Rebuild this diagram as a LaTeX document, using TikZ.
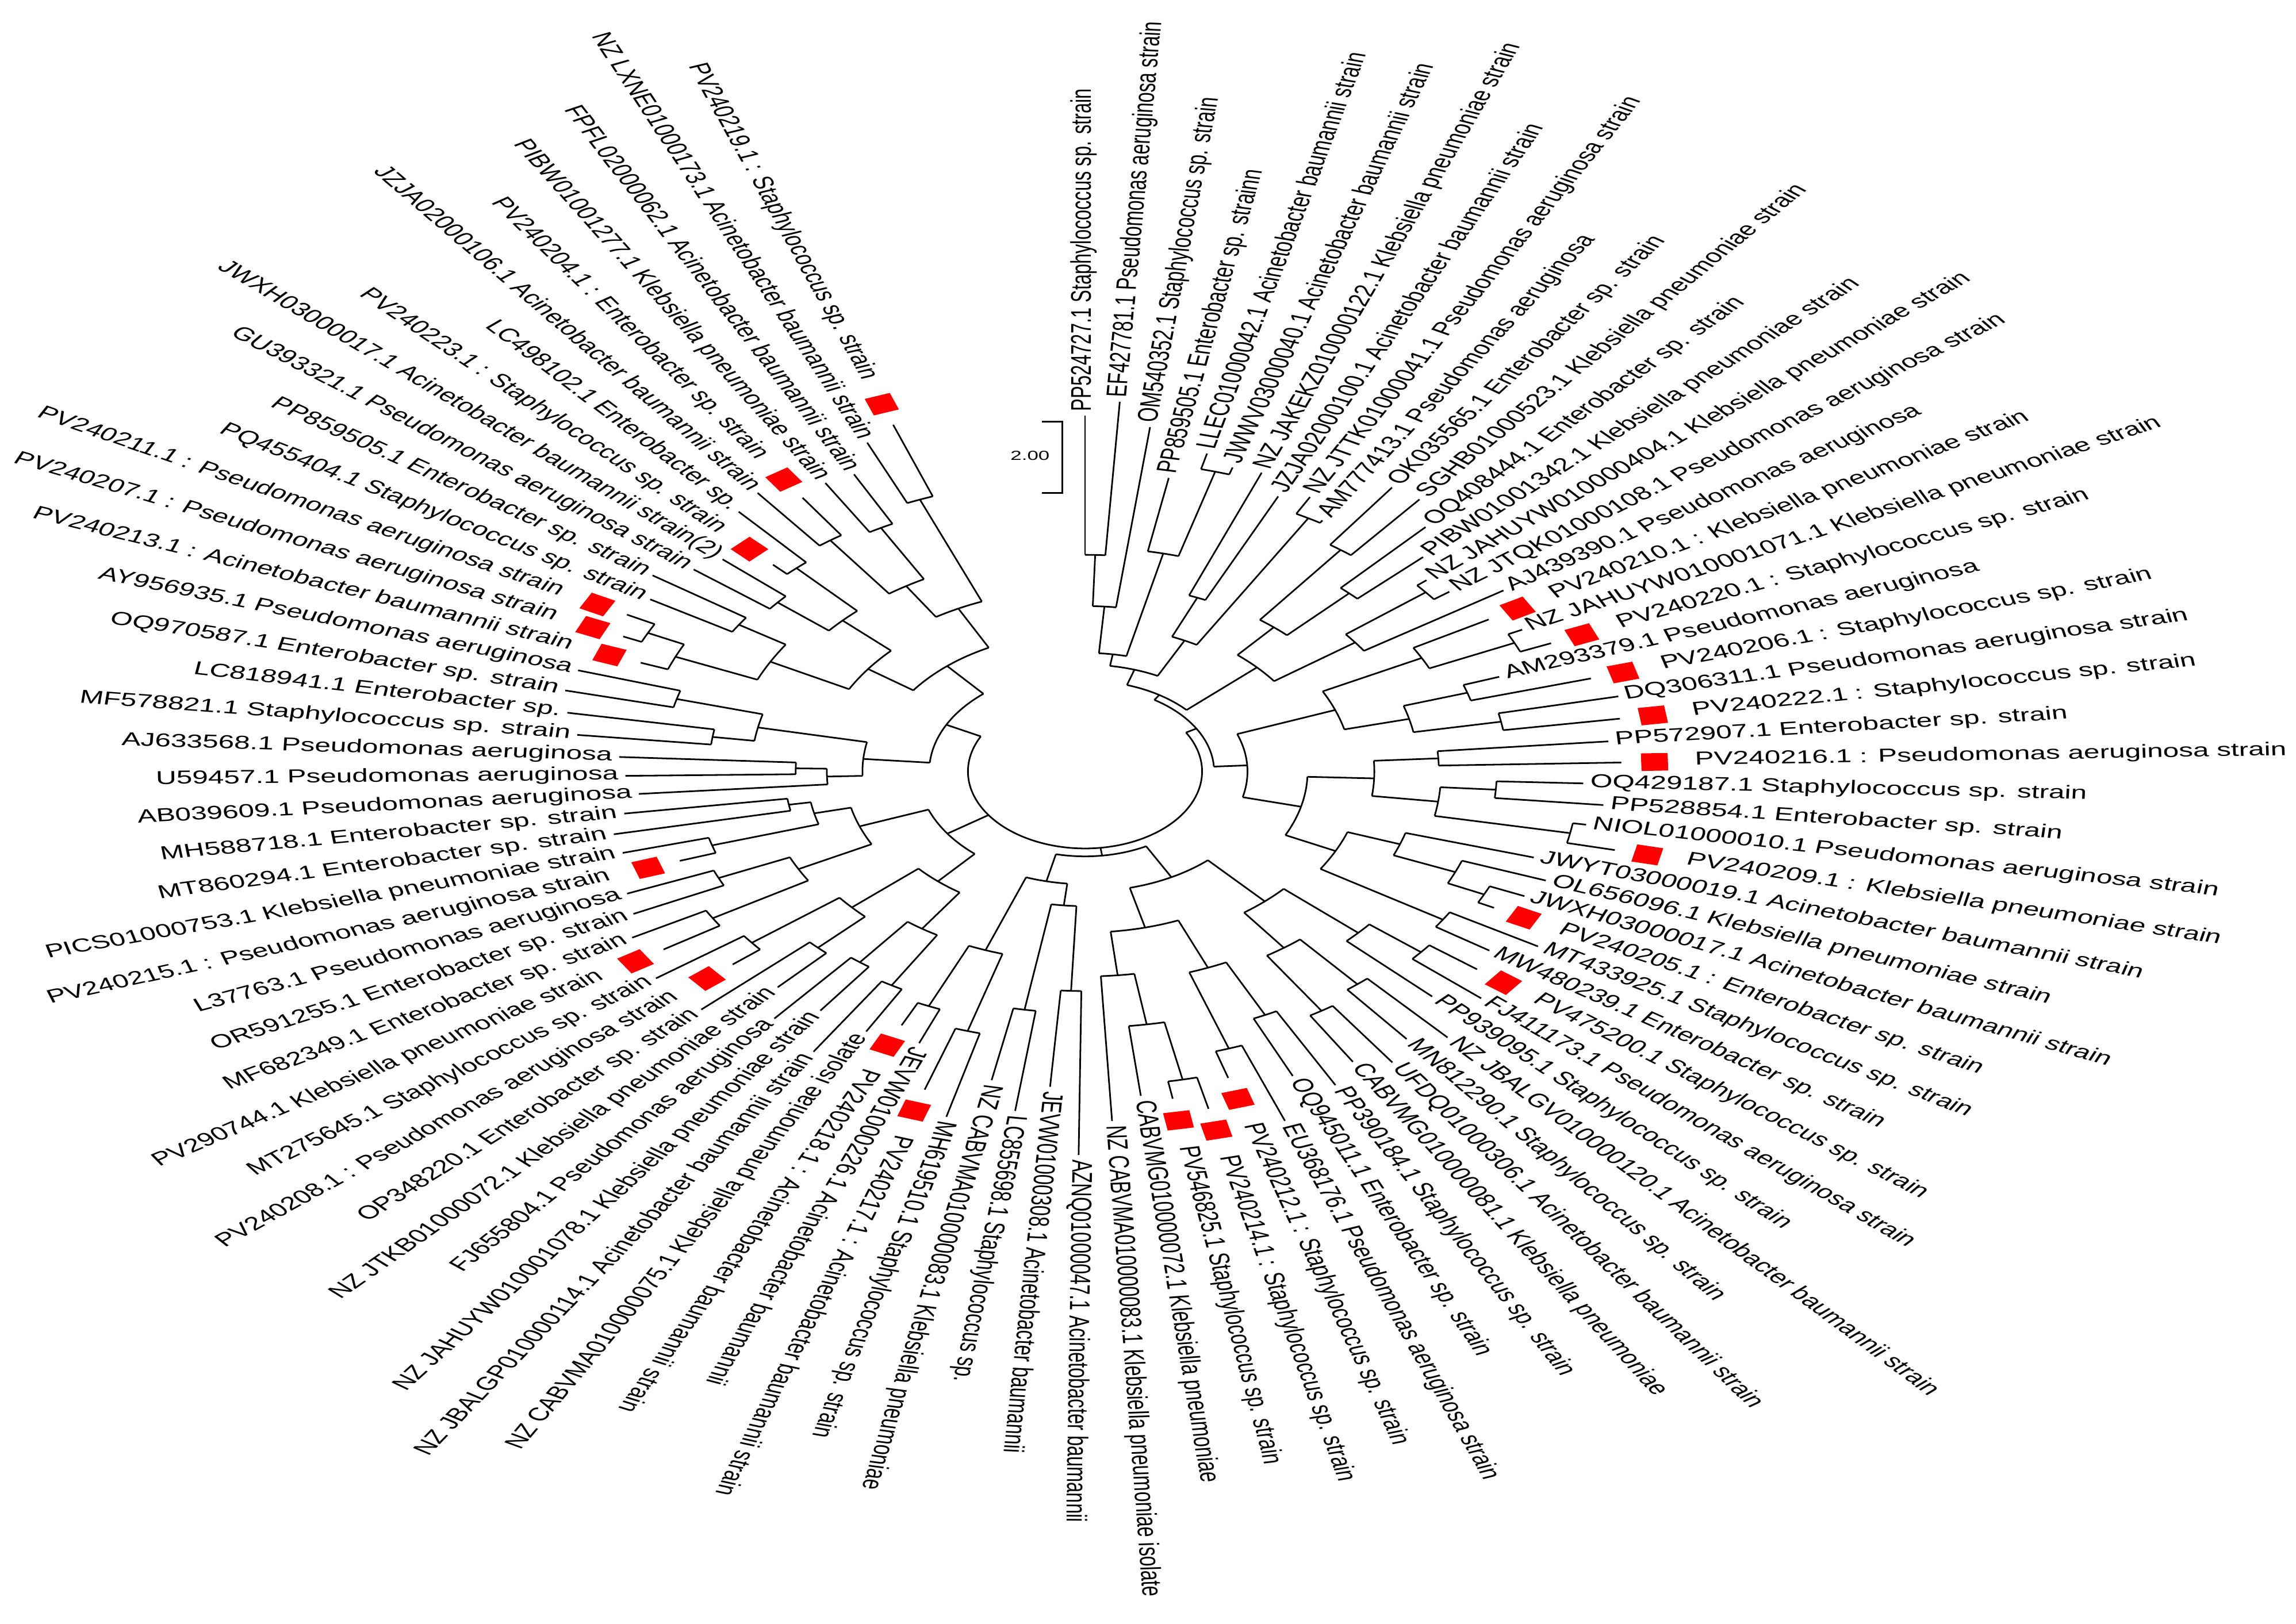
\documentclass[tikz,border=0pt]{standalone}
\usepackage{fontspec}
\setmainfont{Liberation Sans}
\def\dang{3.5417}
\newcommand\ix[1]{\csname ix@#1\endcsname}
% internal node: name, first child idx, last child idx, radius, parent radius
\newcommand\nd[5]{%
  \pgfmathsetmacro\ndA{#2}\pgfmathsetmacro\ndB{#3}%
  \pgfmathsetmacro\ndM{(\ndA+\ndB)/2}%
  \expandafter\xdef\csname ix@#1\endcsname{\ndM}%
  \pgfmathsetmacro\ndta{90-(\ndA-1)*\dang}%
  \pgfmathsetmacro\ndtb{90-(\ndB-1)*\dang}%
  \pgfmathsetmacro\ndtm{90-(\ndM-1)*\dang}%
  \pgfmathtruncatemacro\ndns{abs(\ndta-\ndtb)/1.5+3}%
  \coordinate (#1) at (\ndtm:#4);
  \coordinate (#1p) at (\ndtm:#5);
  \draw[br] plot[domain=\ndtb:\ndta, samples=\ndns] ({#4*cos(\x)},{#4*sin(\x)});
  \draw[br] (#1p) -- (#1);
}
% leaf: idx, parent radius, text radius, square (0/1), label
\newcommand\lf[5]{%
  \pgfmathsetmacro\lfth{90-(#1-1)*\dang}%
  \pgfmathsetmacro\lfrl{#3-3-30*#4}%
  \pgfmathsetmacro\lfrs{#3-18}%
  \pgfmathsetmacro\lftn{mod(\lfth+720,360)}%
  \pgfmathtruncatemacro\lfis{and(\lftn>90.5,\lftn<242.5)}%
  \coordinate (p#1) at (\lfth:#2);
  \coordinate (t#1) at (\lfth:\lfrl);
  \draw[br] (p#1) -- (t#1);
  \ifnum#4=1 \node[sq, rotate=\lfth] (s#1) at (\lfth:\lfrs) {};\fi
  \ifnum\lfis=1
    \pgfmathsetmacro\lftr{\lfth+180}%
    \node[lab, anchor=mid east, rotate=\lftr] (L#1) at (\lfth:#3) {#5};
  \else
    \node[lab, anchor=mid west, rotate=\lfth] (L#1) at (\lfth:#3) {#5};
  \fi
}
\begin{document}
\begin{tikzpicture}[x=1pt,y=1pt,xscale=1.52,
  br/.style={line width=1.1pt},
  lab/.style={font=\fontsize{12.8}{15}\selectfont, inner sep=0pt, transform shape},
  sq/.style={fill=red, draw=none, minimum width=12pt, minimum height=12pt, inner sep=0pt, transform shape},
  sbl/.style={font=\fontsize{9}{11}\selectfont, inner sep=0pt, transform shape}]
\useasboundingbox (-487.5,-582) rectangle (544.1,527);
% ---------- internal nodes ----------
\nd{A1}{1}{2}{148}{113}
\nd{A2}{\ix{A1}}{3}{113}{81}
\nd{A3}{5}{6}{213}{153}
\nd{A4}{4}{\ix{A3}}{153}{81}
\nd{A5}{\ix{A2}}{\ix{A4}}{81}{73}
\nd{A6}{7}{8}{129}{100}
\nd{A7}{9}{10}{200}{100}
\nd{A8}{\ix{A6}}{\ix{A7}}{100}{73}
\nd{A9}{\ix{A5}}{\ix{A8}}{73}{62}
\nd{A10}{11}{12}{190}{130}
\nd{A11}{13}{14}{170}{130}
\nd{A12}{\ix{A10}}{\ix{A11}}{130}{105}
\nd{A13}{15}{16}{196}{150}
\nd{A14}{\ix{A13}}{17}{150}{105}
\nd{A15}{\ix{A12}}{\ix{A14}}{105}{62}
\nd{A16}{\ix{A9}}{\ix{A15}}{62}{58}
\nd{B1}{19}{20}{212}{170}
\nd{B2}{18}{\ix{B1}}{170}{120}
\nd{B3}{21}{22}{180}{150}
\nd{B4}{23}{24}{190}{150}
\nd{B5}{\ix{B3}}{\ix{B4}}{150}{120}
\nd{B6}{\ix{B2}}{\ix{B5}}{120}{73}
\nd{B7}{25}{26}{159}{130}
\nd{B8}{27}{28}{185}{160}
\nd{B9}{29}{30}{222}{160}
\nd{B10}{\ix{B8}}{\ix{B9}}{160}{130}
\nd{B11}{\ix{B7}}{\ix{B10}}{130}{100}
\nd{B12}{33}{34}{198}{180}
\nd{B13}{32}{\ix{B12}}{180}{150}
\nd{B14}{31}{\ix{B13}}{150}{125}
\nd{B15}{35}{36}{190}{125}
\nd{B16}{\ix{B14}}{\ix{B15}}{125}{100}
\nd{B17}{\ix{B11}}{\ix{B16}}{100}{73}
\nd{B18}{\ix{B6}}{\ix{B17}}{73}{58}
\nd{AB}{\ix{A16}}{\ix{B18}}{58}{52.6}
\nd{C1}{37}{38}{195}{165}
\nd{C2}{\ix{C1}}{39}{165}{120}
\nd{C3}{40}{41}{190}{150}
\nd{C4}{42}{43}{195}{150}
\nd{C5}{\ix{C3}}{\ix{C4}}{150}{120}
\nd{C6}{\ix{C2}}{\ix{C5}}{120}{82}
\nd{C7}{44}{45}{185}{145}
\nd{C8}{46}{47}{200}{145}
\nd{C9}{\ix{C7}}{\ix{C8}}{145}{110}
\nd{C10}{48}{49}{215}{175}
\nd{C11}{\ix{C10}}{50}{175}{140}
\nd{C12}{\ix{C11}}{51}{140}{110}
\nd{C13}{\ix{C9}}{\ix{C12}}{110}{82}
\nd{C14}{\ix{C6}}{\ix{C13}}{82}{58}
\nd{D1}{52}{53}{150}{92}
\nd{D2}{54}{55}{165}{92}
\nd{D3}{\ix{D1}}{\ix{D2}}{92}{77}
\nd{D4}{56}{57}{185}{130}
\nd{D5}{58}{59}{175}{130}
\nd{D6}{\ix{D4}}{\ix{D5}}{130}{77}
\nd{D7}{\ix{D3}}{\ix{D6}}{77}{58}
\nd{CD}{\ix{C14}}{\ix{D7}}{58}{52.6}
\nd{E1}{60}{61}{170}{130}
\nd{E2}{62}{63}{165}{130}
\nd{E3}{\ix{E1}}{\ix{E2}}{130}{100}
\nd{E4}{64}{65}{170}{140}
\nd{E5}{66}{67}{190}{140}
\nd{E6}{\ix{E4}}{\ix{E5}}{140}{100}
\nd{E7}{\ix{E3}}{\ix{E6}}{100}{75}
\nd{E8}{68}{69}{195}{145}
\nd{E9}{70}{71}{180}{145}
\nd{E10}{\ix{E8}}{\ix{E9}}{145}{108}
\nd{E11}{72}{73}{175}{125}
\nd{E12}{74}{75}{135}{125}
\nd{E13}{\ix{E11}}{\ix{E12}}{125}{108}
\nd{E14}{\ix{E10}}{\ix{E13}}{108}{75}
\nd{E15}{\ix{E7}}{\ix{E14}}{75}{52.6}
\nd{F1}{77}{78}{130}{116}
\nd{F2}{76}{\ix{F1}}{116}{100}
\nd{F3}{79}{80}{169}{150}
\nd{F4}{81}{82}{190}{150}
\nd{F5}{\ix{F3}}{\ix{F4}}{150}{100}
\nd{F6}{\ix{F2}}{\ix{F5}}{100}{70}
\nd{F7}{84}{85}{218}{200}
\nd{F8}{83}{\ix{F7}}{200}{160}
\nd{F9}{86}{87}{185}{160}
\nd{F10}{\ix{F8}}{\ix{F9}}{160}{120}
\nd{F11}{88}{89}{180}{150}
\nd{F12}{90}{91}{190}{150}
\nd{F13}{\ix{F11}}{\ix{F12}}{150}{120}
\nd{F14}{\ix{F10}}{\ix{F13}}{120}{95}
\nd{F15}{92}{93}{195}{150}
\nd{F16}{94}{95}{190}{150}
\nd{F17}{\ix{F15}}{\ix{F16}}{150}{125}
\nd{F18}{96}{97}{200}{125}
\nd{F19}{\ix{F17}}{\ix{F18}}{125}{95}
\nd{F20}{\ix{F14}}{\ix{F19}}{95}{70}
\nd{F21}{\ix{F6}}{\ix{F20}}{70}{52.6}
\nd{R}{\ix{AB}}{\ix{F21}}{52.6}{52.6}
% ---------- leaves ----------
\lf{1}{148}{246}{0}{PP524727.1 Staphylococcus sp. strain}
\lf{2}{148}{256}{0}{EF427781.1 Pseudomonas aeruginosa strain}
\lf{3}{113}{240}{0}{OM540352.1 Staphylococcus sp. strain}
\lf{4}{153}{207}{0}{PP859505.1 Enterobacter sp. strainn}
\lf{5}{213}{227}{0}{LLEC01000042.1 Acinetobacter baumannii strain}
\lf{6}{213}{221}{0}{JWWV03000040.1 Acinetobacter baumannii strain}
\lf{7}{129}{222}{0}{NZ JAKEKZ010000122.1 Klebsiella pneumoniae strain}
\lf{8}{129}{210}{0}{JZJA02000100.1 Acinetobacter baumannii strain}
\lf{9}{200}{216}{0}{NZ JTTK01000041.1 Pseudomonas aeruginosa strain}
\lf{10}{200}{205}{0}{AM777413.1 Pseudomonas aeruginosa}
\lf{11}{190}{241}{0}{OK035565.1 Enterobacter sp. strain}
\lf{12}{190}{242}{0}{SGHB01000523.1 Klebsiella pneumoniae strain}
\lf{13}{170}{229.5}{0}{OQ408444.1 Enterobacter sp. strain}
\lf{14}{170}{214}{0}{PIBW01001342.1 Klebsiella pneumoniae strain}
\lf{15}{196}{204.5}{0}{NZ JAHUYW010000404.1 Klebsiella pneumoniae strain}
\lf{16}{196}{207.6}{0}{NZ JTQK01000108.1 Pseudomonas aeruginosa strain}
\lf{17}{150}{228}{0}{AJ439390.1 Pseudomonas aeruginosa}
\lf{18}{170}{242}{1}{PV240210.1 : Klebsiella pneumoniae strain}
\lf{19}{212}{222}{0}{NZ JAHUYW010001071.1 Klebsiella pneumoniae strain}
\lf{20}{212}{260}{1}{PV240220.1 : Staphylococcus sp. strain}
\lf{21}{180}{200}{0}{AM293379.1 Pseudomonas aeruginosa}
\lf{22}{180}{269}{1}{PV240206.1 : Staphylococcus sp. strain}
\lf{23}{190}{248}{0}{DQ306311.1 Pseudomonas aeruginosa strain}
\lf{24}{190}{276}{1}{PV240222.1 : Staphylococcus sp. strain}
\lf{25}{159}{239}{0}{PP572907.1 Enterobacter sp. strain}
\lf{26}{159}{274}{1}{PV240216.1 : Pseudomonas aeruginosa strain}
\lf{27}{185}{227}{0}{OQ429187.1 Staphylococcus sp. strain}
\lf{28}{185}{237}{0}{PP528854.1 Enterobacter sp. strain}
\lf{29}{222}{231}{0}{NIOL01000010.1 Pseudomonas aeruginosa strain}
\lf{30}{222}{277}{1}{PV240209.1 : Klebsiella pneumoniae strain}
\lf{31}{150}{213}{0}{JWYT03000019.1 Acinetobacter baumannii strain}
\lf{32}{180}{223}{0}{OL656096.1 Klebsiella pneumoniae strain}
\lf{33}{198}{218}{0}{JWXH03000017.1 Acinetobacter baumannii strain}
\lf{34}{198}{239}{1}{PV240205.1 : Enterobacter sp. strain}
\lf{35}{190}{239}{0}{MT433925.1 Staphylococcus sp. strain}
\lf{36}{190}{222}{0}{MW480239.1 Enterobacter sp. strain}
\lf{37}{195}{255}{1}{PV475200.1 Staphylococcus sp. strain}
\lf{38}{195}{239}{0}{FJ411173.1 Pseudomonas aeruginosa strain}
\lf{39}{165}{222}{0}{PP939095.1 Staphylococcus sp. strain}
\lf{40}{190}{247}{0}{NZ JBALGV010000120.1 Acinetobacter baumannii strain}
\lf{41}{190}{236}{0}{MN812290.1 Staphylococcus sp. strain}
\lf{42}{195}{245}{0}{UFDQ01000306.1 Acinetobacter baumannii strain}
\lf{43}{195}{235}{0}{CABVMG010000081.1 Klebsiella pneumoniae}
\lf{44}{185}{245}{0}{PP390184.1 Staphylococcus sp. strain}
\lf{45}{185}{231}{0}{OQ945011.1 Enterobacter sp. strain}
\lf{46}{200}{258}{0}{EU368176.1 Pseudomonas aeruginosa strain}
\lf{47}{200}{252}{1}{PV240212.1 : Staphylococcus sp. strain}
\lf{48}{215}{270}{1}{PV240214.1 : Staphylococcus sp. strain}
\lf{49}{215}{260}{1}{PV546825.1 Staphylococcus sp. strain}
\lf{50}{175}{226}{0}{CABVMG010000072.1 Klebsiella pneumoniae}
\lf{51}{140}{242}{0}{NZ CABVMA010000083.1 Klebsiella pneumoniae isolate}
\lf{52}{150}{265}{0}{AZNQ01000047.1 Acinetobacter baumannii}
\lf{53}{150}{219}{0}{JEVW01000308.1 Acinetobacter baumannii}
\lf{54}{165}{237}{0}{LC855698.1 Staphylococcus sp.}
\lf{55}{165}{218}{0}{NZ CABVMA010000083.1 Klebsiella pneumoniae}
\lf{56}{185}{247}{0}{MH619510.1 Staphylococcus sp. strain}
\lf{57}{185}{262}{1}{PV240217.1 : Acinetobacter baumannii strain}
\lf{58}{175}{203}{0}{JEVW01000226.1 Acinetobacter baumannii}
\lf{59}{175}{225}{1}{PV240218.1 : Acinetobacter baumannii strain}
\lf{60}{170}{206}{0}{NZ CABVMA010000075.1 Klebsiella pneumoniae isolate}
\lf{61}{170}{230}{0}{NZ JBALGP010000114.1 Acinetobacter baumannii strain}
\lf{62}{165}{205}{0}{NZ JAHUYW010001078.1 Klebsiella pneumoniae strain}
\lf{63}{165}{222}{0}{FJ655804.1 Pseudomonas aeruginosa}
\lf{64}{170}{205}{0}{NZ JTKB01000072.1 Klebsiella pneumoniae strain}
\lf{65}{170}{240}{0}{OP348220.1 Enterobacter sp. strain}
\lf{66}{190}{239}{1}{PV240208.1 : Pseudomonas aeruginosa strain}
\lf{67}{190}{242}{0}{MT275645.1 Staphylococcus sp. strain}
\lf{68}{195}{258}{1}{PV290744.1 Klebsiella pneumoniae strain}
\lf{69}{195}{236}{0}{MF682349.1 Enterobacter sp. strain}
\lf{70}{180}{228}{0}{OR591255.1 Enterobacter sp. strain}
\lf{71}{180}{225}{0}{L37763.1 Pseudomonas aeruginosa}
\lf{72}{175}{225}{1}{PV240215.1 : Pseudomonas aeruginosa strain}
\lf{73}{175}{218}{0}{PICS01000753.1 Klebsiella pneumoniae strain}
\lf{74}{135}{219}{0}{MT860294.1 Enterobacter sp. strain}
\lf{75}{135}{212}{0}{MH588718.1 Enterobacter sp. strain}
\lf{76}{116}{204}{0}{AB039609.1 Pseudomonas aeruginosa}
\lf{77}{130}{209.5}{0}{U59457.1 Pseudomonas aeruginosa}
\lf{78}{130}{212.5}{0}{AJ633568.1 Pseudomonas aeruginosa}
\lf{79}{169}{232.5}{0}{MF578821.1 Staphylococcus sp. strain}
\lf{80}{169}{239}{0}{LC818941.1 Enterobacter sp.}
\lf{81}{190}{243}{0}{OQ970587.1 Enterobacter sp. strain}
\lf{82}{190}{241}{0}{AY956935.1 Pseudomonas aeruginosa}
\lf{83}{200}{246}{1}{PV240213.1 : Acinetobacter baumannii strain}
\lf{84}{218}{260}{1}{PV240207.1 : Pseudomonas aeruginosa strain}
\lf{85}{218}{265}{1}{PV240211.1 : Pseudomonas aeruginosa strain}
\lf{86}{185}{231}{0}{PQ455404.1 Staphylococcus sp. strain}
\lf{87}{185}{239}{0}{PP859505.1 Enterobacter sp. strain}
\lf{88}{180}{226.5}{0}{GU393321.1 Pseudomonas aeruginosa strain}
\lf{89}{180}{221}{0}{JWXH03000017.1 Acinetobacter baumannii strain(2)}
\lf{90}{190}{232}{1}{PV240223.1 : Staphylococcus sp. strain}
\lf{91}{190}{239}{0}{LC498102.1 Enterobacter sp.}
\lf{92}{195}{243.5}{0}{JZJA02000106.1 Acinetobacter baumannii strain}
\lf{93}{195}{259}{1}{PV240204.1 : Enterobacter sp. strain}
\lf{94}{190}{232}{0}{PIBW01001277.1 Klebsiella pneumoniae strain}
\lf{95}{190}{231}{0}{FPFL02000062.1 Acinetobacter baumannii strain}
\lf{96}{200}{248}{0}{NZ LXNE01000173.1 Acinetobacter baumannii strain}
\lf{97}{200}{285}{1}{PV240219.1 : Staphylococcus sp. strain}
% ---------- scale bar ----------
\coordinate (sb1) at (-19.3,239);
\coordinate (sb2) at (-10.1,239);
\coordinate (sb3) at (-10.1,190.3);
\coordinate (sb4) at (-19.3,190.3);
\draw[br] (sb1) -- (sb2) -- (sb3) -- (sb4);
\node[sbl] (sblab) at (-24.7,215.7) {2.00};
\end{tikzpicture}
\end{document}
